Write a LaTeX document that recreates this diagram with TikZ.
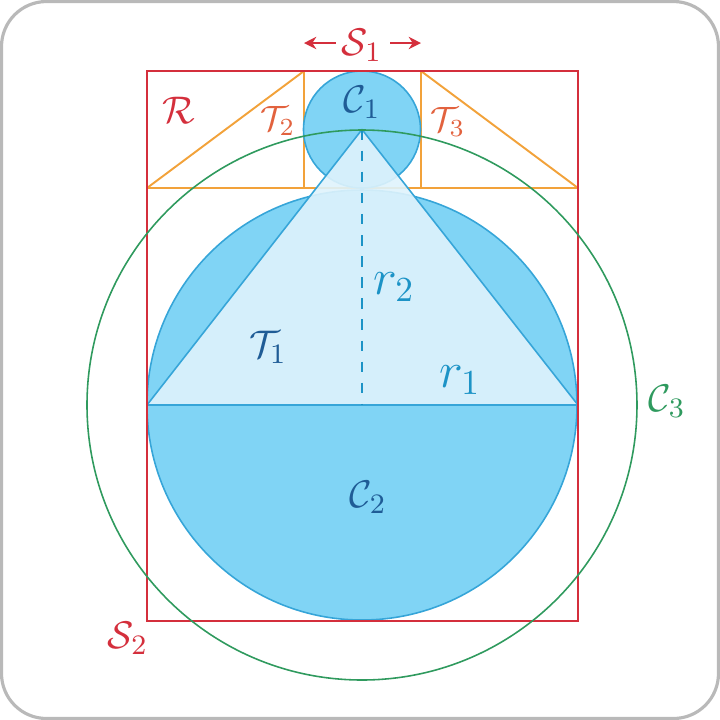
\documentclass[tikz,border=0pt]{standalone}
\usepackage{amsfonts}
\usepackage{amsmath}
\usetikzlibrary{arrows.meta}

\definecolor{boxred}{HTML}{D42F3C}
\definecolor{triorange}{HTML}{F2A23A}
\definecolor{ringgreen}{HTML}{2F9A5E}
\definecolor{discblue}{HTML}{80D4F5}
\definecolor{paleblue}{HTML}{DFF3FC}
\definecolor{edgeblue}{HTML}{36A5D8}
\definecolor{darklab}{HTML}{1F5C96}
\definecolor{radlab}{HTML}{1C93C6}
\definecolor{tlab}{HTML}{E2623E}

\tikzset{
    lab/.style={inner sep=1pt, font=\fontsize{11}{13}\selectfont},
    disc/.style={fill=discblue, draw=edgeblue, line width=0.45pt},
    sides/.style={draw=triorange, line width=0.55pt, line join=round}
}

\begin{document}
\begin{tikzpicture}[x=0.01cm,y=-0.01cm]
        \useasboundingbox (0,0) rectangle (720,720);
        \draw[gray!55, line width=0.9pt, rounded corners=0.45cm] (1.5,1.5) rectangle (718.5,718.5);

        \coordinate (c1) at (362,129.5);
        \coordinate (c2) at (362,405);
        \coordinate (b1) at (147,405);
        \coordinate (b2) at (578,405);

        \fill[disc] (c2) circle (215);

        % the two small triangles beside S1
        \foreach \xa/\xb in {147/304, 578/421}{
            \draw[sides] (\xa,188) -- (\xb,71) -- (\xb,188) -- cycle;
        }
        \draw[sides] (147,188) -- (578,188);

        \fill[disc] (c1) circle (58.5);

        \filldraw[fill=paleblue, fill opacity=0.9, draw=edgeblue, line width=0.45pt, line join=round]
            (c1) -- (b1) -- (b2) -- cycle;
        \draw[radlab, dashed, line width=0.55pt] (c1) -- (c2);

        \draw[boxred, line width=0.55pt] (147,71) rectangle (578,621);
        \draw[ringgreen, line width=0.45pt] (c2) circle (275);

        \node[lab, boxred] (s1) at (362,45) {$\mathcal{S}_1$};
        \coordinate (s1l) at (304,43);
        \coordinate (s1r) at (421,43);
        \draw[boxred, line width=0.55pt, -{Stealth[length=3.5pt,width=3.5pt]}] (s1.west) ++(-2,-2) -- (s1l);
        \draw[boxred, line width=0.55pt, -{Stealth[length=3.5pt,width=3.5pt]}] (s1.east) ++(4,-2) -- (s1r);

        \node[lab, boxred] (rr) at (179,110) {$\mathcal{R}$};
        \node[lab, tlab, font=\normalsize] (t2) at (278,121) {$\mathcal{T}_2$};
        \node[lab, tlab, font=\normalsize] (t3) at (448,122) {$\mathcal{T}_3$};
        \node[lab, darklab] (l1) at (362,102) {$\mathcal{C}_1$};
        \node[lab, radlab, font=\Large] (r2) at (394,287) {$r_2$};
        \node[lab, darklab] (t1) at (268,347) {$\mathcal{T}_1$};
        \node[lab, radlab, font=\Large] (r1) at (460,380) {$r_1$};
        \node[lab, darklab] (l2) at (368,497) {$\mathcal{C}_2$};
        \node[lab, ringgreen] (l3) at (667,401) {$\mathcal{C}_3$};
        \node[lab, boxred] (s2) at (128,638) {$\mathcal{S}_2$};
    \end{tikzpicture}
\end{document}
